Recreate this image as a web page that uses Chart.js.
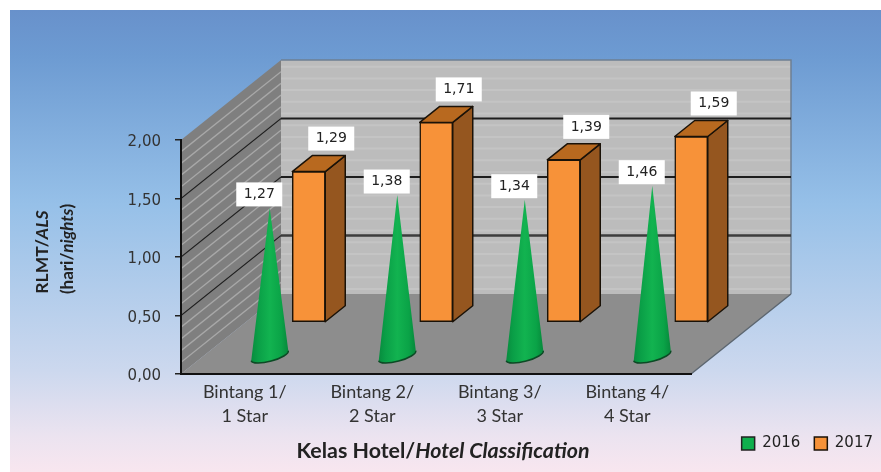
<!DOCTYPE html>
<html>
<head>
<meta charset="utf-8">
<style>html,body{margin:0;padding:0;background:#fff}#w{width:881px;height:472px;position:relative}</style>
<script src="https://cdn.jsdelivr.net/npm/chart.js@4/dist/chart.umd.min.js"></script>
</head>
<body>
<div id="w"><canvas id="c" width="881" height="472"></canvas></div>
<script>
const categories = [["Bintang 1/","1 Star"],["Bintang 2/","2 Star"],["Bintang 3/","3 Star"],["Bintang 4/","4 Star"]];
const series2016 = [1.27,1.38,1.34,1.46];
const series2017 = [1.29,1.71,1.39,1.59];
const seriesNames = ["2016","2017"];
const yMin = 0, yMax = 2, yStep = 0.5;

const comma = v => v.toFixed(2).replace('.',',');
const WALL_DX = 100, WALL_DY = 80;
const RANK = [{dx:25,dy:17.5},{dx:64,dy:51.5}];
const BAR_DX = 20, BAR_DY = 16;
const LABEL_NUDGE = [{dx:-10.5,dy:-13.5},{dx:22.5,dy:-33}];

function bg(chart){
  const c = chart.ctx, W = chart.width, H = chart.height;
  c.save();
  c.fillStyle = '#fff'; c.fillRect(0,0,W,H);
  const g = c.createLinearGradient(0,10,0,H);
  g.addColorStop(0,'#6891CB'); g.addColorStop(.1,'#6D9BD2');
  g.addColorStop(.42,'#96C0E8'); g.addColorStop(.78,'#CCD8EE');
  g.addColorStop(.92,'#EBE3F0'); g.addColorStop(1,'#F8E6EF');
  c.fillStyle = g; c.fillRect(10,10,W-10,H-10);
  c.restore();
}
function poly(c,pts){c.beginPath();pts.forEach((p,i)=>i?c.lineTo(p[0],p[1]):c.moveTo(p[0],p[1]));c.closePath();}
function walls(chart){
  const c = chart.ctx, a = chart.chartArea, y = chart.scales.y;
  const L=a.left,R=a.right,T=y.getPixelForValue(yMax),B=y.getPixelForValue(yMin);
  const dx=WALL_DX,dy=WALL_DY;
  c.save();
  // back wall
  poly(c,[[L+dx,T-dy],[R+dx,T-dy],[R+dx,B-dy],[L+dx,B-dy]]);
  c.fillStyle='#BCBCBC'; c.fill();
  c.save(); c.clip();
  c.strokeStyle='#C4C4C4'; c.lineWidth=2;
  const step=(B-T)/20;
  for(let i=0;i<=20;i++){const yy=T-dy+i*step-5;c.beginPath();c.moveTo(L+dx,yy);c.lineTo(R+dx,yy);c.stroke();}
  c.restore();
  c.strokeStyle='#6E7F93'; c.lineWidth=1.5;
  c.beginPath();c.moveTo(L+dx,T-dy);c.lineTo(R+dx,T-dy);c.lineTo(R+dx,B-dy);c.stroke();
  // floor
  poly(c,[[L,B],[L+dx,B-dy],[R+dx,B-dy],[R,B]]);
  c.fillStyle='#8D8D8D'; c.fill();
  c.strokeStyle='#5C6670'; c.lineWidth=1.5;
  c.beginPath();c.moveTo(R,B);c.lineTo(R+dx,B-dy);c.stroke();
  // left wall
  poly(c,[[L,T],[L+dx,T-dy],[L+dx,B-dy],[L,B]]);
  c.fillStyle='#7F7F7F'; c.fill();
  c.save(); c.clip();
  c.strokeStyle='#A8A8A8'; c.lineWidth=1.4;
  for(let i=1;i<20;i++){const yy=T+i*step;c.beginPath();c.moveTo(L,yy);c.lineTo(L+dx,yy-dy);c.stroke();}
  c.restore();
  // gridlines
  y.ticks.forEach(t=>{
    if(t.value<=yMin) return;
    const p=y.getPixelForValue(t.value);
    if(t.value<yMax){
      c.strokeStyle= t.value===yStep ? '#3D3D3D' : '#1E1E1E';
      c.lineWidth= t.value===yStep ? 2.6 : 1.8;
      c.beginPath();c.moveTo(L+dx,p-dy);c.lineTo(R+dx,p-dy);c.stroke();
      c.strokeStyle='#222'; c.lineWidth=1.4;
      c.beginPath();c.moveTo(L,p);c.lineTo(L+dx,p-dy);c.stroke();
    }
  });
  c.restore();
}
function bar3d(c,b){
  const x0=b.x-b.width/2,x1=b.x+b.width/2,top=b.y,base=b.base;
  const dx=BAR_DX,dy=BAR_DY;
  c.lineJoin='round';
  c.strokeStyle='#1A1208'; c.lineWidth=1.5;
  poly(c,[[x1,top],[x1+dx,top-dy],[x1+dx,base-dy],[x1,base]]);
  c.fillStyle='#95561F'; c.fill(); c.stroke();
  poly(c,[[x0,top],[x0+dx,top-dy],[x1+dx,top-dy],[x1,top]]);
  c.fillStyle='#B8691F'; c.fill(); c.stroke();
}
function cone(c,b){
  const cx=b.x, cy=b.base, rx=19.2, ry=5.5, rot=-15*Math.PI/180;
  const ex=rx*Math.cos(rot), ey=rx*Math.sin(rot);
  const g=c.createLinearGradient(cx-rx,0,cx+rx,0);
  g.addColorStop(0,'#078A3D');g.addColorStop(.2,'#0A9F47');g.addColorStop(.5,'#12B350');
  g.addColorStop(.8,'#0AA347');g.addColorStop(1,'#06863A');
  c.beginPath();c.moveTo(cx,b.y);c.lineTo(cx+ex,cy+ey);
  c.ellipse(cx,cy,rx,ry,rot,0,Math.PI);c.closePath();
  c.fillStyle=g;c.fill();
  c.beginPath();c.ellipse(cx,cy,rx,ry,rot,0,Math.PI);
  c.strokeStyle='#0C4A25';c.lineWidth=1.5;c.stroke();
}
const scene = {
  id:'scene',
  afterLayout(chart){ chart.scales.x.bottom = 440; },
  beforeDraw(chart){bg(chart);walls(chart);},
  beforeDatasetDraw(chart,args){
    const c=chart.ctx,r=RANK[args.index];
    const meta=args.meta;
    c.save();
    c.translate(r.dx,-r.dy);
    if(args.index===0){
      meta.data.forEach(el=>cone(c,el.getProps(['x','y','base'])));
      c.restore();
      return false;
    }
    meta.data.forEach(el=>bar3d(c,el.getProps(['x','y','base','width'])));
  },
  afterDatasetDraw(chart,args){ if(args.index===1) chart.ctx.restore(); },
  afterDatasetsDraw(chart){
    const c=chart.ctx;
    c.save();
    c.textAlign='center';c.textBaseline='middle';c.font='14px "DejaVu Sans"';
    chart.data.datasets.forEach((ds,i)=>{
      const r=RANK[i],n=LABEL_NUDGE[i];
      chart.getDatasetMeta(i).data.forEach((el,j)=>{
        const x=el.x+r.dx+n.dx,y=el.y-r.dy+n.dy;
        c.fillStyle='#fff';c.fillRect(x-23,y-12,46,24);
        c.fillStyle='#222';c.fillText(comma(ds.data[j]),x,y);
      });
    });
    c.restore();
  },
  afterDraw(chart){
    const c=chart.ctx;
    c.save();
    c.fillStyle='#222';c.textBaseline='middle';c.textAlign='left';
    const a='Kelas Hotel/',b='Hotel Classification';
    const fa='bold 21.4px "Lato"',fb='italic bold 21.4px "Lato"';
    c.font=fa;const wa=c.measureText(a).width;
    c.font=fb;const wb=c.measureText(b).width;
    let x=443-(wa+wb)/2;
    c.font=fa;c.fillText(a,x,451);
    c.font=fb;c.fillText(b,x+wa,451);
    c.translate(42,252);c.rotate(-Math.PI/2);
    const d='RLMT/',e='ALS';
    const fd='bold 17.5px "Lato"',fe='italic bold 17.5px "Lato"';
    c.font=fd;const wd=c.measureText(d).width;
    c.font=fe;const we=c.measureText(e).width;
    c.font=fd;c.fillText(d,-(wd+we)/2,0);
    c.font=fe;c.fillText(e,-(wd+we)/2+wd,0);
    const parts=[['(hari/','bold 17px "Lato"'],['nights','italic bold 17px "Lato"'],[')','bold 17px "Lato"']];
    let tw=0;parts.forEach(p=>{c.font=p[1];tw+=c.measureText(p[0]).width;});
    let px=-tw/2+3;
    parts.forEach(p=>{c.font=p[1];c.fillText(p[0],px,26);px+=c.measureText(p[0]).width;});
    c.restore();
  }
};
new Chart(document.getElementById('c'),{
  type:'bar',
  data:{labels:categories,datasets:[
    {label:seriesNames[0],data:series2016,backgroundColor:'#0FAF4D',borderColor:'#222',borderWidth:1.5,borderSkipped:false},
    {label:seriesNames[1],data:series2017,backgroundColor:'#F79239',borderColor:'#1A1208',borderWidth:1.5,borderSkipped:false}
  ]},
  options:{
    responsive:false,animation:false,
    layout:{padding:{top:140,left:0,right:-6,bottom:11}},
    datasets:{bar:{grouped:false,barThickness:33}},
    plugins:{
      tooltip:{enabled:false},title:{display:false},
      legend:{position:'bottom',align:'end',labels:{boxWidth:13,boxHeight:13,padding:14,font:{family:'"DejaVu Sans"',size:15},color:'#222'}}
    },
    scales:{
      x:{
        grid:{display:false},
        border:{display:true,color:'#111',width:2},
        ticks:{font:{family:'"Lato"',size:18,lineHeight:1.33},color:'#333',padding:-2,maxRotation:0,autoSkip:false},
        afterFit(s){s.height=48;}
      },
      y:{
        min:yMin,max:yMax,
        grid:{display:true,drawOnChartArea:false,drawTicks:true,tickLength:6,color:'#222',lineWidth:1.5},
        border:{display:true,color:'#111',width:2},
        ticks:{stepSize:yStep,padding:14,labelOffset:2.5,font:{family:'"DejaVu Sans"',size:15},color:'#333',callback:v=>comma(v)},
        afterFit(s){s.width=181;}
      },
      spacer:{
        position:'right',display:true,min:yMin,max:yMax,
        grid:{display:false},border:{display:false},ticks:{display:false},
        afterFit(s){s.width=196;}
      }
    }
  },
  plugins:[scene]
});
</script>
</body>
</html>
